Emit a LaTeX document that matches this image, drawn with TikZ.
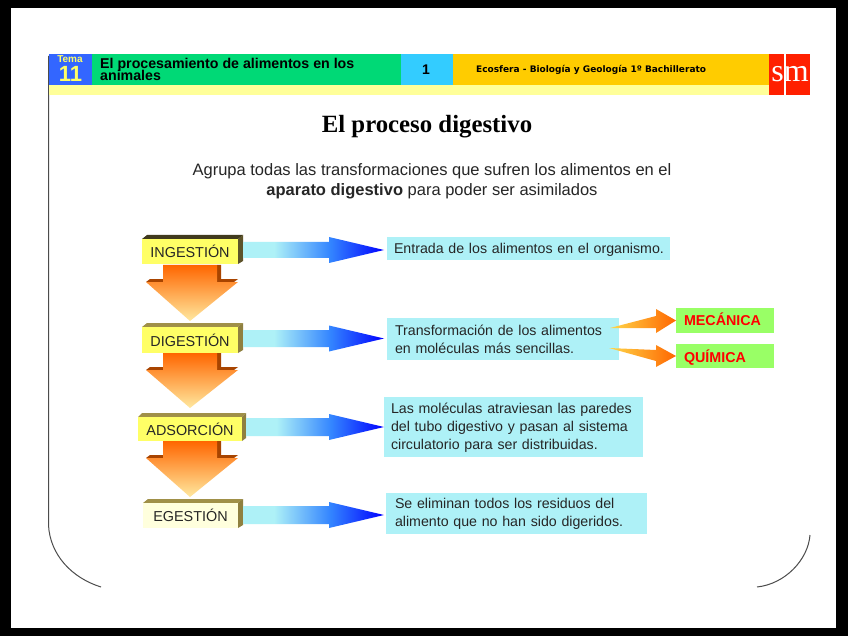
\documentclass[tikz,border=0pt]{standalone}
\usepackage{fontspec}
\setmainfont{Liberation Sans}
\newfontfamily\serifx{Liberation Serif}
\newfontfamily\widex{DejaVu Sans}
\usetikzlibrary{calc}
\definecolor{cyanbox}{HTML}{AEF1F7}
\definecolor{barblue}{HTML}{3366FF}
\definecolor{bargreen}{HTML}{00D976}
\definecolor{barcyan}{HTML}{33CCFF}
\definecolor{bargold}{HTML}{FFCC00}
\definecolor{barstrip}{HTML}{FFFF99}
\definecolor{smred}{HTML}{FF2000}
\definecolor{labyel}{HTML}{FFFF66}
\definecolor{labcream}{HTML}{FFFFDD}
\definecolor{labside}{HTML}{8F8040}
\definecolor{labtop}{HTML}{A09048}
\definecolor{wing}{HTML}{A84400}
\definecolor{tipcream}{HTML}{FFE9A0}
\definecolor{greenbox}{HTML}{99FF66}
\definecolor{lightarrow}{HTML}{AEF1F7}
\definecolor{tailyellow}{HTML}{FFD84A}
\definecolor{headorange}{HTML}{FF6600}
\pgfdeclarehorizontalshading{blueh}{100bp}{color(0bp)=(lightarrow);color(36bp)=(lightarrow);color(56bp)=(blue!60!cyan!80!white);color(75bp)=(blue);color(100bp)=(blue)}
\tikzset{
  bar/.style={draw=none,anchor=north west,inner sep=0pt,outer sep=0pt},
  stepfront/.style={anchor=north west,inner sep=0pt,outer sep=0pt,font=\fontsize{14.4}{15}\selectfont,text=black!85},
  textbox/.style={fill=cyanbox,anchor=north west,inner sep=0pt,outer sep=0pt,align=left,text=black!85,font=\fontsize{14.2}{18}\selectfont},
  resultbox/.style={fill=greenbox,anchor=north west,inner sep=0pt,outer sep=0pt,text=red,font=\fontsize{14.3}{14}\bfseries\selectfont},
  blueflow/.style={shading=blueh},
  orangeflow/.style={left color=tailyellow,right color=headorange},
  downflow/.style={top color=orange!80!red,bottom color=tipcream},
}
\newcommand{\steplabel}[8]{%
  \fill[labtop] (#2,#3) -- (#2+#6,#3-4) -- (#4+#6,#3-4) -- (#4,#3) -- cycle;
  \fill[labside] (#4,#3) -- (#4+#6,#3-4) -- (#4+#6,#5-3) -- (#4,#5) -- cycle;
  \node[stepfront,fill=#7,minimum width=#4pt-#2pt,minimum height=#5pt-#3pt] (#1) at (#2,#3) {#8};
}
\newcommand{\downarrowx}[3]{%
  \fill[wing] (146,#2+17) -- (150,#2+14) -- (222,#2+14) -- (238,#2+14) -- (234,#2+17) -- cycle;
  \fill[wing] (217,#2) -- (221,#2) -- (221,#2+15) -- (217,#2+17) -- cycle;
  \shade[downflow] (163,#2) -- (217,#2) -- (217,#2+17) -- (238,#2+17) -- (190,#3) -- (146,#2+17) -- (163,#2+17) -- cycle;
}
\newcommand{\bluearrow}[5]{%
  \shade[blueflow] let \p1=(#1),\p2=(#2) in
   (\x1,\y1+#4pt) -- (#3pt,\y1+#4pt) -- (#3pt,\y1+#5pt) -- (\x2,\y2) -- (#3pt,\y1-#5pt) -- (#3pt,\y1-#4pt) -- (\x1,\y1-#4pt) -- cycle;
}
\begin{document}
\begin{tikzpicture}[x=1pt,y=-1pt]
\useasboundingbox (0,0) rectangle (848,636);
\fill[black] (0,0) rectangle (848,636);
\fill[white] (11,8) rectangle (836,628);
% frame corners
\coordinate (lt) at (48.5,56);
\coordinate (lb) at (101,587);
\coordinate (rt) at (810,535);
\coordinate (rb) at (757,587);
\draw[black!70,line width=1pt] (lt) -- (48.5,525) .. controls (50,555) and (72,578) .. (lb);
\draw[black!70,line width=1pt] (rt) .. controls (808,560) and (785,584) .. (rb);
% header
\fill[barstrip] (49,85) rectangle (769,95);
\node[bar,fill=barblue,minimum width=43pt,minimum height=31pt] (hblue) at (49,54) {};
\node[bar,fill=bargreen,minimum width=309pt,minimum height=31pt] (hgreen) at (92,54) {};
\node[bar,fill=barcyan,minimum width=52pt,minimum height=31pt] (hcyan) at (401,54) {};
\node[bar,fill=bargold,minimum width=316pt,minimum height=31pt] (hgold) at (453,54) {};
\node[bar,fill=smred,minimum width=15pt,minimum height=41pt] (smone) at (769,54) {};
\node[bar,fill=smred,minimum width=24.5pt,minimum height=41pt] (smtwo) at (785.5,54) {};
\node[inner sep=0pt,text=labyel,font=\fontsize{10}{10}\bfseries\selectfont] (tema) at (70,59.5) {Tema};
\node[inner sep=0pt,text=labyel,font=\fontsize{22}{22}\bfseries\selectfont] (num) at (70.5,74) {11};
\node[anchor=north west,inner sep=0pt,align=left,font=\fontsize{14.2}{12}\bfseries\selectfont] (htitle) at (100,58) {El procesamiento de alimentos en los\\[-2pt]animales};
\node[inner sep=0pt,font=\fontsize{14}{14}\bfseries\selectfont] (hone) at (426,70) {1};
\node[anchor=west,inner sep=0pt,font=\widex\fontsize{9}{9}\bfseries\selectfont] (hbook) at (476,70) {Ecosfera - Biología y Geología 1º Bachillerato};
\node[inner sep=0pt,text=white,font=\serifx\fontsize{32}{32}\selectfont] (smtext) at (790,74) {sm};
% titles
\node[inner sep=0pt,font=\serifx\fontsize{24.8}{24.8}\bfseries\selectfont] (title) at (427,127) {El proceso digestivo};
\node[inner sep=0pt,align=center,font=\fontsize{16.5}{20}\selectfont,text=black!85] (intro) at (432,181) {Agrupa todas las transformaciones que sufren los alimentos en el\\{\bfseries aparato digestivo} para poder ser asimilados};
% down arrows
\downarrowx{a}{265}{321}
\downarrowx{b}{353}{408}
\downarrowx{c}{441}{497}
% steps
\colorlet{labtop}{black!55!labside}
\colorlet{labside}{black!35!labside}
\steplabel{ing}{142}{239}{238}{264}{5}{labyel}{INGESTIÓN}
\definecolor{labside}{HTML}{8F8040}
\definecolor{labtop}{HTML}{A09048}
\steplabel{dig}{142}{327}{238}{353}{5}{labyel}{DIGESTIÓN}
\steplabel{abs}{138}{417}{242}{441}{4}{labyel}{ADSORCIÓN}
\steplabel{ege}{143}{503}{238}{528}{5}{labcream}{EGESTIÓN}
% text boxes
\node[textbox,minimum width=283pt,minimum height=23pt,text width=283pt,text height=17pt,text depth=6pt] (tone) at (387,237) {\hspace{7pt}Entrada de los alimentos en el organismo.};
\node[textbox,minimum width=232pt,minimum height=42pt,text width=232pt] (ttwo) at (387,318) {\hspace{8pt}Transformación de los alimentos\\\hspace{8pt}en moléculas más sencillas.};
\node[textbox,minimum width=259pt,minimum height=60pt,text width=259pt] (tthree) at (384,397) {\hspace{7pt}\rule{0pt}{12.5pt}Las moléculas atraviesan las paredes\\\hspace{7pt}del tubo digestivo y pasan al sistema\\\hspace{7pt}circulatorio para ser distribuidas.};
\node[textbox,minimum width=261pt,minimum height=41pt,text width=261pt] (tfour) at (386,493) {\hspace{9pt}Se eliminan todos los residuos del\\\hspace{9pt}alimento que no han sido digeridos.};
% results
\node[resultbox,minimum width=98pt,minimum height=25pt,text width=98pt,align=left,text height=17pt,text depth=8pt] (mec) at (676,308) {\hspace{8pt}MECÁNICA};
\node[resultbox,minimum width=98pt,minimum height=24pt,text width=98pt,align=left,text height=18pt,text depth=6pt] (qui) at (676,344) {\hspace{8pt}QUÍMICA};
% blue arrows
\coordinate (b1a) at (243,250);
\coordinate (b1b) at (384,250);
\coordinate (b2a) at (243,338.5);
\coordinate (b2b) at (384,338.5);
\coordinate (b3a) at (246,427);
\coordinate (b3b) at (384,427);
\coordinate (b4a) at (243,515);
\coordinate (b4b) at (384,515);
\bluearrow{b1a}{b1b}{329}{8}{13}
\bluearrow{b2a}{b2b}{329}{8.5}{13}
\bluearrow{b3a}{b3b}{329}{9}{13}
\bluearrow{b4a}{b4b}{329}{9}{13}
% orange arrows
\coordinate (o1a) at (610,328);
\coordinate (o1b) at (mec.west);
\coordinate (o2a) at (609,348);
\coordinate (o2b) at (qui.west);
\shade[orangeflow] (o1a) -- (656,316) -- (656,309) -- (o1b) -- (656,333) -- (656,328) -- cycle;
\shade[orangeflow] (o2a) -- (656,350) -- (656,345) -- (o2b) -- (656,367) -- (656,361) -- cycle;
\end{tikzpicture}
\end{document}
